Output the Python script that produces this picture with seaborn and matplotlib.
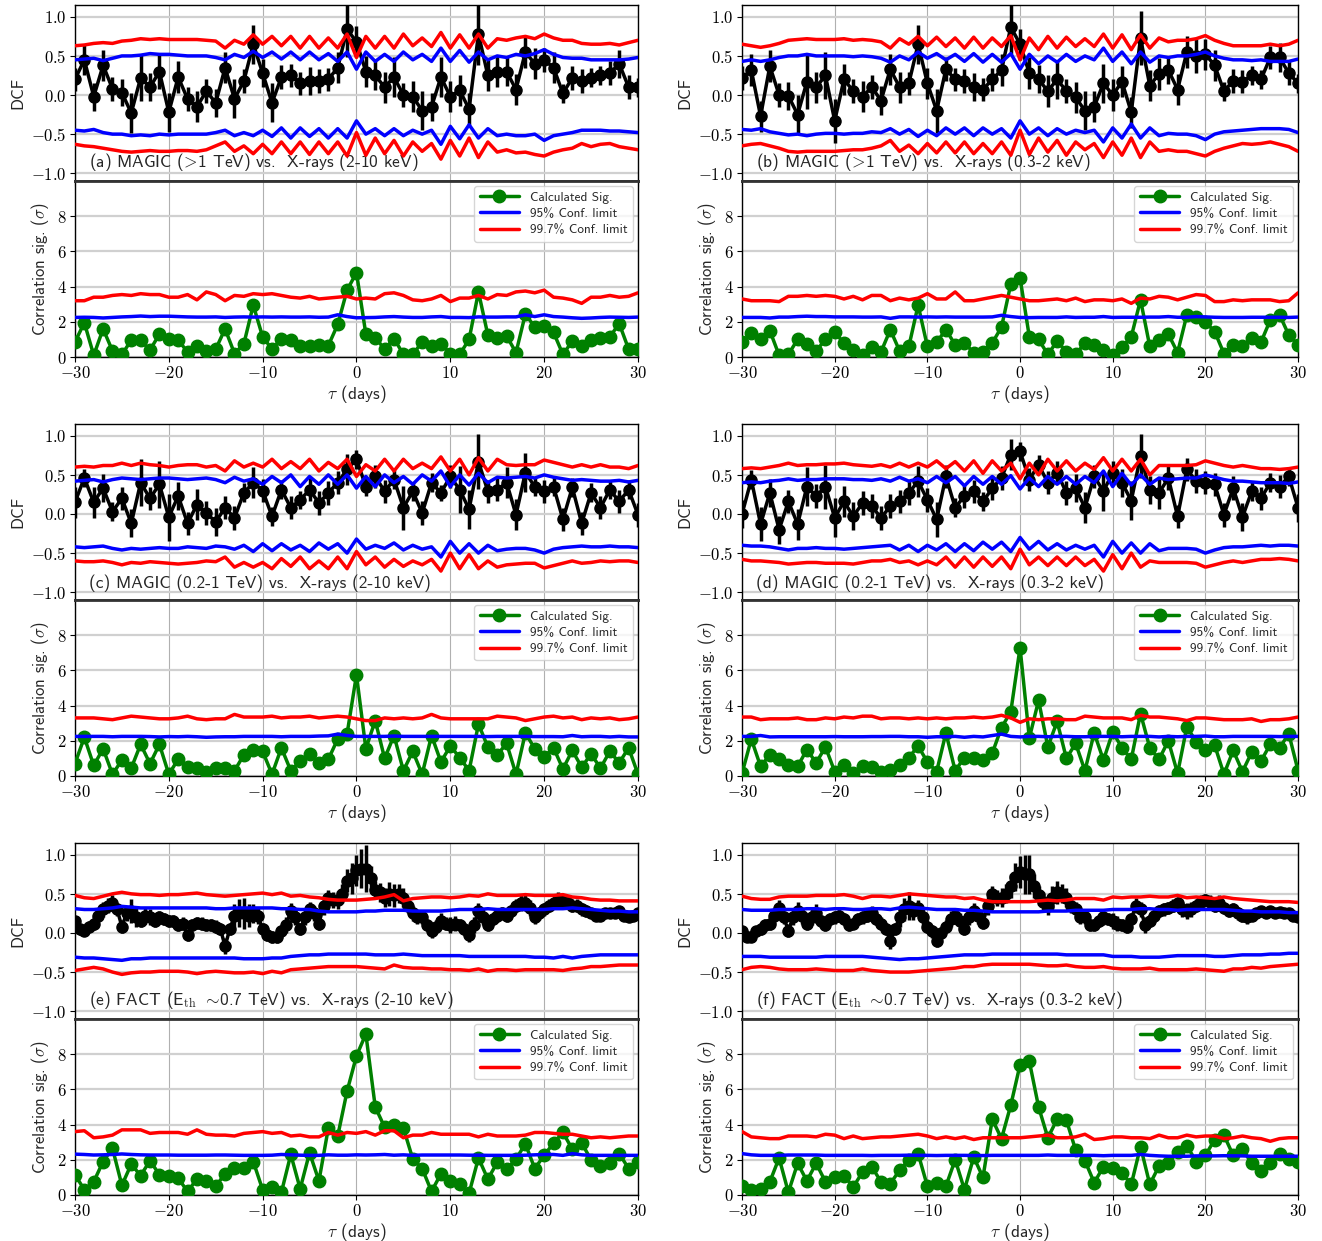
import numpy as np
import matplotlib
matplotlib.use("Agg")
import matplotlib.pyplot as plt
import seaborn as sns

# lag grids (days)
lags = np.arange(-30, 31)              # 1-day bins
lags_fine = np.arange(-30, 30.5, 0.5)  # FACT DCF uses 0.5-day bins

# ---------------- (a) MAGIC >1 TeV vs X-rays 2-10 keV ----------------
dcf_a = [0.2, 0.45, -0.02, 0.38, 0.08, 0.03, -0.23, 0.22, 0.1, 0.3,
         -0.22, 0.23, -0.05, -0.15, 0.05, -0.1, 0.35, -0.05, 0.18, 0.65,
         0.28, -0.1, 0.23, 0.25, 0.15, 0.18, 0.18, 0.2, 0.35, 0.84,
         0.68, 0.3, 0.25, 0.1, 0.23, 0.0, -0.02, -0.2, -0.15, 0.23,
         -0.02, 0.06, -0.18, 0.78, 0.25, 0.3, 0.3, 0.07, 0.55, 0.4,
         0.45, 0.35, 0.02, 0.22, 0.18, 0.22, 0.25, 0.28, 0.4, 0.1,
         0.1]
err_a = [0.15, 0.2, 0.18, 0.2, 0.15, 0.17, 0.25, 0.3, 0.18, 0.22,
         0.25, 0.2, 0.15, 0.2, 0.15, 0.18, 0.2, 0.25, 0.15, 0.25,
         0.18, 0.25, 0.15, 0.15, 0.15, 0.18, 0.15, 0.15, 0.2, 0.35,
         0.2, 0.2, 0.18, 0.2, 0.25, 0.15, 0.2, 0.25, 0.18, 0.25,
         0.2, 0.2, 0.2, 0.4, 0.2, 0.2, 0.18, 0.2, 0.2, 0.2,
         0.15, 0.2, 0.12, 0.15, 0.15, 0.12, 0.12, 0.15, 0.18, 0.15,
         0.12]
up997_a = [0.63, 0.64, 0.66, 0.67, 0.66, 0.69, 0.7, 0.72, 0.71, 0.72,
           0.71, 0.71, 0.71, 0.71, 0.7, 0.69, 0.6, 0.7, 0.65, 0.77,
           0.65, 0.75, 0.63, 0.75, 0.6, 0.75, 0.6, 0.73, 0.6, 0.78,
           0.48, 0.75, 0.6, 0.75, 0.6, 0.78, 0.63, 0.73, 0.62, 0.8,
           0.6, 0.77, 0.6, 0.78, 0.6, 0.72, 0.7, 0.73, 0.75, 0.72,
           0.78, 0.73, 0.7, 0.7, 0.66, 0.65, 0.65, 0.66, 0.64, 0.67,
           0.7]
up95_a = [0.45, 0.46, 0.47, 0.44, 0.47, 0.5, 0.5, 0.51, 0.53, 0.52,
          0.52, 0.51, 0.5, 0.5, 0.5, 0.48, 0.45, 0.52, 0.48, 0.56,
          0.48, 0.55, 0.46, 0.55, 0.45, 0.55, 0.45, 0.53, 0.43, 0.55,
          0.33, 0.55, 0.43, 0.52, 0.43, 0.55, 0.45, 0.52, 0.43, 0.6,
          0.43, 0.57, 0.42, 0.55, 0.45, 0.5, 0.48, 0.52, 0.5, 0.53,
          0.58, 0.52, 0.48, 0.47, 0.47, 0.45, 0.45, 0.45, 0.45, 0.46,
          0.48]
lo95_a = [-0.45, -0.46, -0.44, -0.48, -0.5, -0.5, -0.52, -0.51, -0.52, -0.5,
          -0.51, -0.5, -0.5, -0.5, -0.5, -0.48, -0.45, -0.52, -0.48, -0.52,
          -0.45, -0.53, -0.42, -0.55, -0.42, -0.53, -0.43, -0.55, -0.43, -0.55,
          -0.33, -0.5, -0.43, -0.52, -0.43, -0.52, -0.45, -0.5, -0.45, -0.63,
          -0.4, -0.56, -0.38, -0.55, -0.43, -0.52, -0.5, -0.52, -0.52, -0.5,
          -0.58, -0.52, -0.5, -0.48, -0.45, -0.45, -0.45, -0.46, -0.46, -0.47,
          -0.48]
lo997_a = [-0.63, -0.65, -0.66, -0.68, -0.7, -0.72, -0.73, -0.72, -0.71, -0.72,
           -0.72, -0.71, -0.71, -0.72, -0.7, -0.65, -0.6, -0.72, -0.65, -0.75,
           -0.63, -0.75, -0.6, -0.75, -0.6, -0.76, -0.6, -0.75, -0.6, -0.78,
           -0.48, -0.77, -0.55, -0.75, -0.58, -0.78, -0.6, -0.72, -0.62, -0.82,
           -0.58, -0.78, -0.55, -0.8, -0.6, -0.73, -0.7, -0.74, -0.73, -0.76,
           -0.78, -0.73, -0.7, -0.68, -0.62, -0.66, -0.63, -0.62, -0.66, -0.68,
           -0.7]
sig_a = [0.85, 1.95, 0.1, 1.6, 0.35, 0.15, 0.95, 0.95, 0.4, 1.3,
         1.0, 0.95, 0.3, 0.6, 0.35, 0.45, 1.6, 0.2, 0.75, 2.95,
         1.15, 0.45, 1.05, 0.95, 0.65, 0.65, 0.7, 0.65, 1.85, 3.8,
         4.8, 1.3, 1.1, 0.45, 1.05, 0.15, 0.15, 0.85, 0.6, 0.75,
         0.2, 0.15, 1.0, 3.7, 1.25, 1.1, 1.2, 0.25, 2.45, 1.7,
         1.75, 1.4, 0.15, 0.9, 0.65, 0.95, 1.1, 1.15, 1.9, 0.45,
         0.45]
sig95_a = [2.25, 2.26, 2.25, 2.22, 2.25, 2.28, 2.3, 2.33, 2.3, 2.32,
           2.32, 2.3, 2.28, 2.27, 2.27, 2.28, 2.25, 2.27, 2.28, 2.27,
           2.28, 2.27, 2.28, 2.27, 2.27, 2.28, 2.26, 2.27, 2.4, 2.3,
           2.23, 2.24, 2.25, 2.28, 2.3, 2.27, 2.25, 2.25, 2.28, 2.3,
           2.25, 2.25, 2.24, 2.28, 2.27, 2.27, 2.28, 2.28, 2.4, 2.3,
           2.4, 2.3, 2.27, 2.23, 2.2, 2.22, 2.25, 2.27, 2.26, 2.25,
           2.27]
sig997_a = [3.2, 3.2, 3.4, 3.4, 3.5, 3.55, 3.5, 3.6, 3.55, 3.55,
            3.4, 3.4, 3.55, 3.25, 3.7, 3.55, 3.2, 3.5, 3.45, 3.6,
            3.55, 3.6, 3.5, 3.4, 3.35, 3.45, 3.3, 3.35, 3.4, 3.45,
            3.3, 3.35, 3.3, 3.6, 3.65, 3.5, 3.25, 3.2, 3.3, 3.5,
            3.15, 3.35, 3.35, 3.5, 3.3, 3.55, 3.5, 3.7, 3.75, 3.65,
            3.8, 3.4, 3.35, 3.25, 3.05, 3.4, 3.4, 3.5, 3.4, 3.45,
            3.65]

# ---------------- (b) MAGIC >1 TeV vs X-rays 0.3-2 keV ----------------
dcf_b = [0.22, 0.32, -0.27, 0.37, 0.0, -0.01, -0.25, 0.17, 0.1, 0.25,
         -0.33, 0.2, 0.05, -0.02, 0.1, -0.07, 0.33, 0.1, 0.15, 0.65,
         0.15, -0.2, 0.33, 0.2, 0.18, 0.1, 0.07, 0.2, 0.32, 0.87,
         0.65, 0.28, 0.2, 0.05, 0.2, 0.05, -0.03, -0.2, -0.15, 0.15,
         0.0, 0.17, -0.22, 0.73, 0.12, 0.27, 0.32, 0.07, 0.55, 0.5,
         0.52, 0.38, 0.05, 0.18, 0.17, 0.25, 0.2, 0.48, 0.48, 0.28,
         0.15]
err_b = [0.15, 0.2, 0.2, 0.2, 0.15, 0.18, 0.25, 0.35, 0.2, 0.3,
         0.28, 0.2, 0.15, 0.2, 0.15, 0.18, 0.2, 0.2, 0.15, 0.25,
         0.2, 0.28, 0.15, 0.15, 0.15, 0.18, 0.15, 0.15, 0.2, 0.35,
         0.2, 0.2, 0.18, 0.2, 0.25, 0.15, 0.2, 0.25, 0.2, 0.25,
         0.2, 0.2, 0.2, 0.35, 0.2, 0.2, 0.18, 0.2, 0.2, 0.22,
         0.2, 0.2, 0.12, 0.15, 0.15, 0.12, 0.12, 0.15, 0.18, 0.15,
         0.12]
up997_b = [0.65, 0.63, 0.61, 0.63, 0.66, 0.7, 0.71, 0.72, 0.71, 0.71,
           0.71, 0.72, 0.7, 0.71, 0.7, 0.68, 0.6, 0.72, 0.65, 0.75,
           0.63, 0.74, 0.62, 0.73, 0.6, 0.74, 0.6, 0.73, 0.62, 0.76,
           0.45, 0.73, 0.58, 0.75, 0.6, 0.74, 0.62, 0.72, 0.62, 0.78,
           0.6, 0.77, 0.58, 0.77, 0.6, 0.73, 0.68, 0.7, 0.7, 0.72,
           0.76, 0.7, 0.66, 0.63, 0.63, 0.63, 0.63, 0.65, 0.63, 0.65,
           0.7]
up95_b = [0.43, 0.45, 0.43, 0.45, 0.48, 0.5, 0.5, 0.52, 0.5, 0.5,
          0.5, 0.5, 0.49, 0.5, 0.49, 0.47, 0.42, 0.5, 0.45, 0.55,
          0.47, 0.53, 0.45, 0.52, 0.43, 0.53, 0.42, 0.52, 0.42, 0.53,
          0.33, 0.52, 0.4, 0.5, 0.42, 0.52, 0.43, 0.5, 0.45, 0.6,
          0.43, 0.55, 0.4, 0.55, 0.42, 0.5, 0.48, 0.5, 0.5, 0.52,
          0.55, 0.5, 0.47, 0.45, 0.45, 0.44, 0.45, 0.43, 0.43, 0.43,
          0.46]
lo95_b = [-0.44, -0.45, -0.43, -0.47, -0.49, -0.51, -0.5, -0.52, -0.5, -0.49,
          -0.49, -0.5, -0.49, -0.49, -0.47, -0.48, -0.43, -0.5, -0.44, -0.53,
          -0.45, -0.52, -0.42, -0.5, -0.42, -0.52, -0.42, -0.5, -0.43, -0.55,
          -0.33, -0.5, -0.42, -0.52, -0.43, -0.5, -0.45, -0.48, -0.45, -0.6,
          -0.42, -0.55, -0.37, -0.55, -0.42, -0.52, -0.49, -0.5, -0.5, -0.52,
          -0.57, -0.5, -0.47, -0.46, -0.45, -0.44, -0.43, -0.43, -0.43, -0.44,
          -0.48]
lo997_b = [-0.65, -0.63, -0.62, -0.65, -0.68, -0.72, -0.73, -0.72, -0.72, -0.72,
           -0.72, -0.71, -0.7, -0.7, -0.68, -0.65, -0.58, -0.72, -0.64, -0.75,
           -0.62, -0.74, -0.6, -0.74, -0.6, -0.75, -0.62, -0.75, -0.6, -0.77,
           -0.45, -0.76, -0.55, -0.73, -0.58, -0.77, -0.6, -0.7, -0.62, -0.8,
           -0.6, -0.77, -0.55, -0.8, -0.6, -0.72, -0.7, -0.72, -0.72, -0.75,
           -0.78, -0.72, -0.68, -0.65, -0.62, -0.63, -0.62, -0.6, -0.63, -0.66,
           -0.72]
sig_b = [0.85, 1.35, 1.0, 1.5, 0.1, 0.15, 1.0, 0.75, 0.35, 1.0,
         1.4, 0.8, 0.4, 0.1, 0.55, 0.3, 1.55, 0.35, 0.6, 2.95,
         0.6, 0.85, 1.55, 0.7, 0.8, 0.25, 0.3, 0.8, 1.7, 4.15,
         4.5, 1.15, 1.0, 0.15, 0.9, 0.3, 0.15, 0.8, 0.7, 0.4,
         0.1, 0.55, 1.15, 3.25, 0.6, 0.95, 1.3, 0.25, 2.4, 2.3,
         2.0, 1.45, 0.2, 0.7, 0.6, 1.1, 0.85, 2.1, 2.4, 1.25,
         0.7]
sig95_b = [2.25, 2.25, 2.25, 2.22, 2.27, 2.27, 2.3, 2.32, 2.3, 2.3,
           2.28, 2.28, 2.28, 2.27, 2.27, 2.28, 2.2, 2.28, 2.28, 2.27,
           2.28, 2.27, 2.28, 2.27, 2.27, 2.27, 2.27, 2.28, 2.37, 2.3,
           2.25, 2.24, 2.25, 2.25, 2.25, 2.28, 2.25, 2.26, 2.26, 2.3,
           2.25, 2.26, 2.26, 2.26, 2.27, 2.27, 2.3, 2.26, 2.26, 2.3,
           2.28, 2.26, 2.25, 2.25, 2.25, 2.26, 2.26, 2.26, 2.26, 2.25,
           2.27]
sig997_b = [3.3, 3.2, 3.2, 3.2, 3.15, 3.45, 3.45, 3.5, 3.45, 3.5,
            3.45, 3.3, 3.45, 3.25, 3.5, 3.5, 3.2, 3.35, 3.25, 3.35,
            3.6, 3.3, 3.3, 3.7, 3.2, 3.2, 3.3, 3.4, 3.5, 3.4,
            3.3, 3.2, 3.2, 3.25, 3.3, 3.2, 3.35, 3.15, 3.25, 3.25,
            3.2, 3.3, 3.05, 3.35, 3.3, 3.45, 3.4, 3.25, 3.4, 3.55,
            3.5, 3.15, 3.15, 3.25, 3.2, 3.25, 3.25, 3.25, 3.15, 3.2,
            3.65]

# ---------------- (c) MAGIC 0.2-1 TeV vs X-rays 2-10 keV ----------------
dcf_c = [0.15, 0.46, 0.15, 0.33, 0.03, 0.2, -0.12, 0.4, 0.2, 0.38,
         -0.04, 0.23, -0.12, 0.12, 0.01, -0.1, 0.08, -0.05, 0.27, 0.4,
         0.3, -0.03, 0.31, 0.08, 0.18, 0.31, 0.14, 0.27, 0.4, 0.57,
         0.7, 0.35, 0.48, 0.29, 0.44, 0.08, 0.29, 0.01, 0.4, 0.27,
         0.48, 0.31, 0.06, 0.67, 0.29, 0.31, 0.4, -0.01, 0.53, 0.35,
         0.29, 0.35, -0.07, 0.34, -0.12, 0.27, 0.08, 0.31, 0.16, 0.31,
         -0.01]
err_c = [0.2, 0.12, 0.2, 0.18, 0.12, 0.15, 0.18, 0.3, 0.15, 0.3,
         0.3, 0.18, 0.15, 0.2, 0.15, 0.18, 0.15, 0.15, 0.12, 0.2,
         0.15, 0.12, 0.12, 0.15, 0.12, 0.15, 0.15, 0.15, 0.15, 0.2,
         0.12, 0.12, 0.15, 0.15, 0.12, 0.28, 0.12, 0.15, 0.12, 0.1,
         0.15, 0.3, 0.25, 0.35, 0.15, 0.15, 0.2, 0.2, 0.25, 0.12,
         0.15, 0.12, 0.15, 0.12, 0.15, 0.12, 0.15, 0.12, 0.15, 0.12,
         0.15]
up997_c = [0.6, 0.61, 0.6, 0.62, 0.62, 0.65, 0.62, 0.65, 0.63, 0.62,
           0.6, 0.62, 0.63, 0.63, 0.6, 0.62, 0.55, 0.68, 0.6, 0.65,
           0.6, 0.7, 0.58, 0.67, 0.58, 0.7, 0.55, 0.66, 0.58, 0.7,
           0.48, 0.63, 0.55, 0.7, 0.55, 0.7, 0.58, 0.65, 0.58, 0.73,
           0.55, 0.7, 0.5, 0.72, 0.55, 0.7, 0.63, 0.62, 0.63, 0.63,
           0.69, 0.66, 0.63, 0.6, 0.63, 0.6, 0.63, 0.6, 0.6, 0.58,
           0.62]
up95_c = [0.42, 0.43, 0.44, 0.41, 0.44, 0.46, 0.45, 0.44, 0.45, 0.46,
          0.46, 0.45, 0.44, 0.45, 0.46, 0.44, 0.4, 0.47, 0.42, 0.45,
          0.38, 0.48, 0.4, 0.5, 0.35, 0.48, 0.38, 0.5, 0.38, 0.5,
          0.33, 0.48, 0.35, 0.5, 0.4, 0.48, 0.38, 0.5, 0.42, 0.55,
          0.35, 0.5, 0.37, 0.52, 0.4, 0.47, 0.46, 0.47, 0.48, 0.46,
          0.5, 0.47, 0.45, 0.43, 0.44, 0.43, 0.42, 0.42, 0.43, 0.41,
          0.43]
lo95_c = [-0.42, -0.43, -0.42, -0.41, -0.44, -0.46, -0.44, -0.45, -0.44, -0.43,
          -0.44, -0.44, -0.42, -0.43, -0.44, -0.41, -0.42, -0.45, -0.4, -0.48,
          -0.38, -0.47, -0.38, -0.46, -0.4, -0.48, -0.37, -0.45, -0.38, -0.5,
          -0.32, -0.45, -0.4, -0.44, -0.37, -0.46, -0.4, -0.45, -0.42, -0.55,
          -0.35, -0.5, -0.38, -0.5, -0.4, -0.47, -0.45, -0.44, -0.44, -0.46,
          -0.5, -0.45, -0.43, -0.42, -0.41, -0.42, -0.42, -0.41, -0.42, -0.42,
          -0.43]
lo997_c = [-0.6, -0.61, -0.61, -0.6, -0.62, -0.65, -0.62, -0.63, -0.61, -0.62,
           -0.63, -0.64, -0.63, -0.62, -0.6, -0.61, -0.55, -0.68, -0.62, -0.68,
           -0.62, -0.7, -0.57, -0.67, -0.55, -0.7, -0.6, -0.7, -0.55, -0.7,
           -0.48, -0.65, -0.55, -0.68, -0.58, -0.67, -0.6, -0.65, -0.58, -0.73,
           -0.5, -0.7, -0.52, -0.7, -0.6, -0.68, -0.65, -0.64, -0.63, -0.63,
           -0.69, -0.66, -0.63, -0.6, -0.63, -0.62, -0.6, -0.61, -0.6, -0.6,
           -0.62]
sig_c = [0.7, 2.2, 0.6, 1.55, 0.1, 0.9, 0.45, 1.8, 0.7, 1.8,
         0.1, 0.95, 0.5, 0.45, 0.2, 0.45, 0.45, 0.3, 1.2, 1.5,
         1.4, 0.1, 1.6, 0.3, 0.85, 1.25, 0.75, 0.95, 2.1, 2.4,
         5.75, 1.55, 3.15, 1.0, 2.3, 0.3, 1.4, 0.1, 2.3, 0.8,
         1.7, 1.05, 0.3, 2.95, 1.65, 1.2, 1.85, 0.1, 2.45, 1.55,
         1.1, 1.6, 0.4, 1.45, 0.5, 1.25, 0.45, 1.4, 0.75, 1.6,
         0.1]
sig95_c = [2.25, 2.25, 2.25, 2.25, 2.23, 2.25, 2.25, 2.25, 2.24, 2.22,
           2.24, 2.23, 2.25, 2.23, 2.2, 2.22, 2.23, 2.23, 2.25, 2.25,
           2.25, 2.25, 2.23, 2.25, 2.25, 2.25, 2.27, 2.28, 2.38, 2.3,
           2.25, 2.25, 2.25, 2.25, 2.27, 2.25, 2.25, 2.25, 2.25, 2.25,
           2.25, 2.25, 2.25, 2.25, 2.24, 2.25, 2.25, 2.25, 2.25, 2.24,
           2.24, 2.24, 2.23, 2.3, 2.23, 2.25, 2.25, 2.22, 2.25, 2.22,
           2.22]
sig997_c = [3.3, 3.3, 3.3, 3.25, 3.2, 3.3, 3.4, 3.35, 3.3, 3.25,
            3.25, 3.3, 3.4, 3.25, 3.2, 3.25, 3.25, 3.5, 3.35, 3.35,
            3.35, 3.4, 3.3, 3.35, 3.35, 3.4, 3.3, 3.35, 3.4, 3.35,
            3.25, 3.15, 3.15, 3.3, 3.25, 3.3, 3.25, 3.3, 3.5, 3.3,
            3.25, 3.25, 3.25, 3.25, 3.25, 3.4, 3.35, 3.3, 3.15, 3.25,
            3.35, 3.4, 3.3, 3.35, 3.2, 3.3, 3.25, 3.3, 3.2, 3.25,
            3.35]

# ---------------- (d) MAGIC 0.2-1 TeV vs X-rays 0.3-2 keV ----------------
dcf_d = [0.0, 0.44, -0.13, 0.27, -0.2, 0.16, -0.13, 0.35, 0.23, 0.35,
         -0.05, 0.16, -0.03, 0.14, 0.1, -0.05, 0.1, 0.16, 0.27, 0.42,
         0.18, -0.07, 0.48, 0.08, 0.23, 0.29, 0.16, 0.33, 0.46, 0.76,
         0.8, 0.44, 0.63, 0.4, 0.53, 0.27, 0.33, 0.08, 0.48, 0.29,
         0.53, 0.4, 0.17, 0.74, 0.31, 0.27, 0.46, -0.03, 0.57, 0.42,
         0.4, 0.38, -0.01, 0.33, -0.04, 0.29, 0.2, 0.4, 0.35, 0.48,
         0.08]
err_d = [0.18, 0.12, 0.22, 0.18, 0.18, 0.15, 0.2, 0.25, 0.15, 0.28,
         0.25, 0.2, 0.18, 0.15, 0.15, 0.15, 0.15, 0.15, 0.15, 0.2,
         0.15, 0.22, 0.15, 0.12, 0.15, 0.15, 0.12, 0.15, 0.15, 0.2,
         0.12, 0.15, 0.12, 0.15, 0.15, 0.15, 0.18, 0.2, 0.15, 0.25,
         0.15, 0.18, 0.25, 0.28, 0.18, 0.2, 0.15, 0.15, 0.15, 0.15,
         0.15, 0.15, 0.15, 0.15, 0.18, 0.12, 0.15, 0.12, 0.15, 0.12,
         0.18]
up997_d = [0.58, 0.59, 0.58, 0.6, 0.62, 0.65, 0.62, 0.63, 0.63, 0.64,
           0.64, 0.65, 0.63, 0.62, 0.61, 0.63, 0.6, 0.65, 0.6, 0.65,
           0.6, 0.68, 0.58, 0.67, 0.55, 0.68, 0.52, 0.68, 0.55, 0.65,
           0.45, 0.65, 0.5, 0.7, 0.55, 0.68, 0.55, 0.65, 0.57, 0.72,
           0.55, 0.7, 0.55, 0.7, 0.5, 0.62, 0.62, 0.62, 0.62, 0.63,
           0.68, 0.65, 0.62, 0.6, 0.62, 0.6, 0.58, 0.58, 0.57, 0.58,
           0.6]
up95_d = [0.4, 0.41, 0.4, 0.42, 0.43, 0.45, 0.43, 0.44, 0.44, 0.45,
          0.45, 0.45, 0.44, 0.44, 0.43, 0.45, 0.42, 0.47, 0.42, 0.45,
          0.4, 0.48, 0.4, 0.48, 0.36, 0.48, 0.38, 0.48, 0.38, 0.49,
          0.32, 0.46, 0.35, 0.48, 0.38, 0.48, 0.38, 0.48, 0.4, 0.55,
          0.35, 0.52, 0.37, 0.5, 0.38, 0.46, 0.44, 0.45, 0.46, 0.46,
          0.5, 0.47, 0.44, 0.42, 0.42, 0.41, 0.4, 0.4, 0.4, 0.39,
          0.41]
lo95_d = [-0.4, -0.41, -0.41, -0.42, -0.44, -0.46, -0.44, -0.44, -0.43, -0.44,
          -0.44, -0.45, -0.44, -0.43, -0.42, -0.41, -0.4, -0.46, -0.4, -0.48,
          -0.4, -0.46, -0.38, -0.48, -0.38, -0.47, -0.36, -0.45, -0.36, -0.48,
          -0.3, -0.45, -0.35, -0.46, -0.38, -0.46, -0.4, -0.45, -0.4, -0.55,
          -0.35, -0.5, -0.37, -0.5, -0.38, -0.47, -0.44, -0.44, -0.44, -0.45,
          -0.5, -0.46, -0.43, -0.42, -0.42, -0.41, -0.4, -0.41, -0.4, -0.4,
          -0.41]
lo997_d = [-0.58, -0.6, -0.6, -0.61, -0.62, -0.64, -0.63, -0.62, -0.62, -0.63,
           -0.63, -0.63, -0.64, -0.62, -0.6, -0.6, -0.58, -0.62, -0.6, -0.65,
           -0.6, -0.65, -0.55, -0.68, -0.55, -0.68, -0.55, -0.67, -0.55, -0.7,
           -0.45, -0.65, -0.55, -0.66, -0.55, -0.66, -0.55, -0.66, -0.58, -0.73,
           -0.52, -0.7, -0.5, -0.68, -0.6, -0.62, -0.62, -0.62, -0.62, -0.63,
           -0.68, -0.65, -0.62, -0.6, -0.62, -0.6, -0.58, -0.58, -0.57, -0.58,
           -0.6]
sig_d = [0.15, 2.1, 0.55, 1.2, 0.95, 0.65, 0.55, 1.5, 0.75, 1.65,
         0.25, 0.6, 0.15, 0.55, 0.5, 0.2, 0.35, 0.65, 1.05, 1.7,
         0.8, 0.25, 2.45, 0.3, 1.05, 1.05, 0.9, 1.3, 2.75, 3.65,
         7.3, 2.15, 4.3, 1.65, 3.1, 1.0, 1.85, 0.3, 2.45, 0.9,
         2.5, 1.6, 0.95, 3.55, 1.6, 0.95, 2.0, 0.15, 2.8, 1.95,
         1.5, 1.75, 0.1, 1.45, 0.25, 1.35, 0.85, 1.8, 1.6, 2.4,
         0.3]
sig95_d = [2.25, 2.25, 2.3, 2.22, 2.23, 2.23, 2.23, 2.23, 2.23, 2.23,
           2.24, 2.23, 2.23, 2.23, 2.24, 2.24, 2.25, 2.25, 2.23, 2.23,
           2.2, 2.23, 2.23, 2.25, 2.2, 2.25, 2.22, 2.3, 2.38, 2.25,
           2.22, 2.25, 2.25, 2.23, 2.25, 2.25, 2.23, 2.23, 2.25, 2.25,
           2.25, 2.23, 2.25, 2.25, 2.25, 2.22, 2.25, 2.23, 2.25, 2.25,
           2.27, 2.23, 2.23, 2.25, 2.25, 2.25, 2.25, 2.25, 2.24, 2.25,
           2.25]
sig997_d = [3.35, 3.35, 3.2, 3.25, 3.25, 3.25, 3.3, 3.2, 3.2, 3.3,
            3.25, 3.35, 3.3, 3.4, 3.4, 3.25, 3.3, 3.3, 3.25, 3.3,
            3.25, 3.3, 3.25, 3.3, 3.3, 3.35, 3.3, 3.35, 3.45, 3.3,
            3.05, 3.25, 3.2, 3.25, 3.25, 3.2, 3.2, 3.4, 3.35, 3.3,
            3.3, 3.3, 3.2, 3.45, 3.35, 3.35, 3.3, 3.25, 3.15, 3.3,
            3.3, 3.25, 3.2, 3.2, 3.2, 3.25, 3.1, 3.2, 3.2, 3.25,
            3.35]

# ---------------- (e) FACT vs X-rays 2-10 keV (DCF in 0.5-day bins) ----------------
dcf_e = [0.15, 0.05, 0.03, 0.08, 0.12, 0.22, 0.3, 0.35, 0.38, 0.3,
         0.08, 0.25, 0.28, 0.2, 0.15, 0.22, 0.2, 0.15, 0.2, 0.18,
         0.15, 0.15, 0.1, 0.12, -0.03, 0.1, 0.13, 0.12, 0.1, 0.1,
         0.08, 0.05, -0.17, 0.05, 0.22, 0.25, 0.25, 0.22, 0.25, 0.22,
         0.05, -0.02, -0.05, -0.05, 0.02, 0.1, 0.28, 0.2, 0.05, 0.2,
         0.3, 0.25, 0.12, 0.35, 0.45, 0.42, 0.42, 0.5, 0.67, 0.7,
         0.8, 0.82, 0.82, 0.7, 0.55, 0.52, 0.45, 0.5, 0.48, 0.5,
         0.45, 0.35, 0.25, 0.2, 0.2, 0.1, 0.02, 0.08, 0.15, 0.12,
         0.1, 0.12, 0.1, 0.05, -0.03, 0.1, 0.28, 0.2, 0.1, 0.18,
         0.22, 0.25, 0.22, 0.28, 0.35, 0.38, 0.38, 0.32, 0.2, 0.25,
         0.3, 0.35, 0.38, 0.42, 0.4, 0.38, 0.35, 0.35, 0.3, 0.28,
         0.25, 0.22, 0.22, 0.25, 0.25, 0.25, 0.28, 0.22, 0.2, 0.22,
         0.25]
err_e = [0.07, 0.07, 0.07, 0.07, 0.08, 0.08, 0.1, 0.1, 0.1, 0.08,
         0.08, 0.1, 0.15, 0.12, 0.08, 0.1, 0.1, 0.08, 0.08, 0.08,
         0.08, 0.08, 0.08, 0.08, 0.07, 0.08, 0.08, 0.08, 0.08, 0.08,
         0.08, 0.08, 0.1, 0.08, 0.15, 0.18, 0.2, 0.15, 0.12, 0.1,
         0.08, 0.08, 0.08, 0.08, 0.08, 0.1, 0.1, 0.1, 0.08, 0.1,
         0.1, 0.1, 0.08, 0.12, 0.1, 0.1, 0.12, 0.12, 0.15, 0.2,
         0.2, 0.25, 0.3, 0.15, 0.12, 0.12, 0.12, 0.15, 0.15, 0.12,
         0.12, 0.1, 0.1, 0.08, 0.08, 0.08, 0.08, 0.08, 0.1, 0.08,
         0.1, 0.1, 0.08, 0.08, 0.08, 0.1, 0.1, 0.1, 0.08, 0.08,
         0.08, 0.08, 0.08, 0.08, 0.08, 0.1, 0.1, 0.1, 0.08, 0.08,
         0.08, 0.08, 0.08, 0.1, 0.08, 0.08, 0.08, 0.08, 0.08, 0.08,
         0.06, 0.06, 0.06, 0.06, 0.06, 0.06, 0.06, 0.06, 0.06, 0.06,
         0.06]
up997_e = [0.48, 0.45, 0.44, 0.47, 0.5, 0.52, 0.5, 0.49, 0.49, 0.48,
           0.49, 0.49, 0.5, 0.51, 0.49, 0.48, 0.47, 0.48, 0.49, 0.5,
           0.51, 0.49, 0.51, 0.47, 0.48, 0.46, 0.45, 0.43, 0.42, 0.42,
           0.42, 0.43, 0.44, 0.46, 0.49, 0.41, 0.44, 0.45, 0.46, 0.46,
           0.45, 0.46, 0.48, 0.47, 0.5, 0.48, 0.48, 0.48, 0.49, 0.48,
           0.48, 0.48, 0.49, 0.46, 0.45, 0.43, 0.42, 0.42, 0.41, 0.41,
           0.41]
up95_e = [0.31, 0.3, 0.3, 0.31, 0.32, 0.34, 0.33, 0.32, 0.32, 0.32,
          0.32, 0.32, 0.32, 0.32, 0.32, 0.31, 0.31, 0.32, 0.32, 0.32,
          0.32, 0.32, 0.31, 0.31, 0.3, 0.3, 0.28, 0.27, 0.27, 0.27,
          0.27, 0.28, 0.28, 0.29, 0.29, 0.29, 0.28, 0.28, 0.28, 0.28,
          0.29, 0.3, 0.3, 0.3, 0.31, 0.3, 0.3, 0.3, 0.3, 0.3,
          0.3, 0.31, 0.31, 0.32, 0.31, 0.3, 0.29, 0.28, 0.28, 0.27,
          0.27]
lo95_e = [-0.31, -0.32, -0.32, -0.33, -0.34, -0.35, -0.33, -0.33, -0.32, -0.32,
          -0.32, -0.32, -0.32, -0.32, -0.32, -0.32, -0.32, -0.32, -0.33, -0.33,
          -0.33, -0.32, -0.32, -0.3, -0.29, -0.28, -0.28, -0.27, -0.27, -0.27,
          -0.27, -0.27, -0.28, -0.28, -0.28, -0.27, -0.28, -0.29, -0.29, -0.29,
          -0.29, -0.29, -0.3, -0.3, -0.3, -0.3, -0.3, -0.3, -0.3, -0.31,
          -0.31, -0.32, -0.3, -0.32, -0.3, -0.29, -0.28, -0.28, -0.28, -0.28,
          -0.28]
lo997_e = [-0.48, -0.46, -0.44, -0.46, -0.5, -0.53, -0.51, -0.5, -0.5, -0.49,
           -0.49, -0.49, -0.5, -0.52, -0.5, -0.49, -0.5, -0.51, -0.51, -0.5,
           -0.52, -0.49, -0.51, -0.47, -0.46, -0.45, -0.44, -0.43, -0.43, -0.43,
           -0.43, -0.44, -0.45, -0.46, -0.41, -0.44, -0.45, -0.45, -0.46, -0.46,
           -0.47, -0.47, -0.48, -0.46, -0.49, -0.47, -0.47, -0.48, -0.47, -0.47,
           -0.47, -0.47, -0.48, -0.46, -0.45, -0.43, -0.43, -0.42, -0.41, -0.41,
           -0.41]
sig_e = [1.15, 0.3, 0.75, 1.9, 2.65, 0.55, 1.75, 1.1, 1.95, 1.15,
         1.1, 0.95, 0.2, 0.9, 0.8, 0.5, 1.2, 1.55, 1.55, 1.9,
         0.3, 0.45, 0.15, 2.3, 0.35, 2.4, 0.8, 3.8, 3.35, 5.9,
         7.9, 9.15, 5.0, 3.85, 4.0, 3.8, 2.05, 1.5, 0.2, 1.2,
         0.8, 0.65, 0.1, 2.1, 0.9, 1.85, 1.45, 2.05, 2.9, 1.5,
         2.25, 2.95, 3.55, 2.6, 2.95, 2.0, 1.65, 1.8, 2.35, 1.5,
         1.9]
sig95_e = [2.32, 2.3, 2.27, 2.28, 2.3, 2.33, 2.3, 2.28, 2.27, 2.27,
           2.27, 2.26, 2.26, 2.26, 2.26, 2.27, 2.27, 2.26, 2.25, 2.25,
           2.25, 2.26, 2.3, 2.28, 2.26, 2.25, 2.25, 2.28, 2.26, 2.26,
           2.28, 2.27, 2.28, 2.3, 2.26, 2.28, 2.25, 2.27, 2.27, 2.27,
           2.27, 2.27, 2.26, 2.26, 2.25, 2.25, 2.25, 2.25, 2.26, 2.28,
           2.3, 2.3, 2.25, 2.35, 2.28, 2.25, 2.25, 2.25, 2.25, 2.25,
           2.25]
sig997_e = [3.6, 3.65, 3.25, 3.3, 3.4, 3.7, 3.7, 3.7, 3.5, 3.55,
            3.55, 3.55, 3.45, 3.7, 3.45, 3.4, 3.4, 3.35, 3.5, 3.55,
            3.6, 3.5, 3.55, 3.35, 3.4, 3.3, 3.3, 3.55, 3.4, 3.55,
            3.5, 3.6, 3.4, 3.65, 3.65, 3.25, 3.4, 3.4, 3.55, 3.45,
            3.45, 3.45, 3.45, 3.3, 3.45, 3.35, 3.35, 3.35, 3.4, 3.55,
            3.55, 3.5, 3.45, 3.45, 3.35, 3.25, 3.3, 3.25, 3.3, 3.35,
            3.35]

# ---------------- (f) FACT vs X-rays 0.3-2 keV (DCF in 0.5-day bins) ----------------
dcf_f = [0.02, -0.05, -0.05, 0.02, 0.05, 0.1, 0.12, 0.22, 0.32, 0.2,
         0.03, 0.2, 0.28, 0.22, 0.12, 0.2, 0.25, 0.15, 0.1, 0.18,
         0.2, 0.22, 0.18, 0.1, 0.12, 0.18, 0.2, 0.22, 0.25, 0.18,
         0.12, 0.05, -0.1, 0.05, 0.2, 0.3, 0.35, 0.28, 0.32, 0.2,
         0.08, 0.02, -0.1, 0.0, 0.08, 0.18, 0.22, 0.15, 0.05, 0.2,
         0.28, 0.22, 0.13, 0.35, 0.5, 0.45, 0.45, 0.5, 0.6, 0.72,
         0.78, 0.75, 0.75, 0.6, 0.48, 0.4, 0.35, 0.45, 0.52, 0.5,
         0.45, 0.35, 0.3, 0.2, 0.2, 0.1, 0.1, 0.15, 0.2, 0.18,
         0.15, 0.12, 0.1, 0.08, 0.18, 0.35, 0.3, 0.1, 0.15, 0.22,
         0.28, 0.3, 0.32, 0.35, 0.38, 0.3, 0.28, 0.3, 0.35, 0.4,
         0.42, 0.4, 0.35, 0.38, 0.32, 0.28, 0.3, 0.25, 0.22, 0.2,
         0.22, 0.25, 0.28, 0.25, 0.28, 0.25, 0.27, 0.25, 0.25, 0.22,
         0.2]
err_f = [0.07, 0.07, 0.07, 0.07, 0.08, 0.08, 0.08, 0.1, 0.1, 0.08,
         0.08, 0.1, 0.12, 0.1, 0.08, 0.1, 0.12, 0.08, 0.08, 0.08,
         0.08, 0.08, 0.08, 0.08, 0.07, 0.08, 0.08, 0.08, 0.1, 0.08,
         0.08, 0.08, 0.1, 0.08, 0.12, 0.15, 0.18, 0.12, 0.1, 0.1,
         0.08, 0.08, 0.08, 0.08, 0.08, 0.1, 0.1, 0.1, 0.08, 0.1,
         0.1, 0.1, 0.08, 0.12, 0.1, 0.1, 0.12, 0.12, 0.15, 0.18,
         0.2, 0.25, 0.25, 0.15, 0.12, 0.12, 0.12, 0.15, 0.15, 0.12,
         0.12, 0.1, 0.1, 0.08, 0.08, 0.08, 0.08, 0.08, 0.1, 0.08,
         0.1, 0.1, 0.08, 0.08, 0.08, 0.1, 0.1, 0.1, 0.08, 0.08,
         0.08, 0.08, 0.08, 0.08, 0.08, 0.1, 0.1, 0.1, 0.08, 0.08,
         0.08, 0.08, 0.08, 0.1, 0.08, 0.08, 0.08, 0.08, 0.08, 0.08,
         0.06, 0.06, 0.06, 0.06, 0.06, 0.06, 0.06, 0.06, 0.06, 0.06,
         0.06]
up997_f = [0.47, 0.44, 0.43, 0.43, 0.46, 0.47, 0.47, 0.47, 0.48, 0.48,
           0.48, 0.49, 0.47, 0.44, 0.47, 0.47, 0.46, 0.48, 0.5, 0.49,
           0.48, 0.47, 0.46, 0.46, 0.44, 0.45, 0.42, 0.4, 0.4, 0.4,
           0.4, 0.4, 0.41, 0.42, 0.41, 0.42, 0.44, 0.44, 0.44, 0.42,
           0.46, 0.45, 0.46, 0.46, 0.47, 0.46, 0.46, 0.48, 0.45, 0.46,
           0.45, 0.44, 0.46, 0.44, 0.43, 0.42, 0.41, 0.4, 0.4, 0.4,
           0.39]
up95_f = [0.3, 0.29, 0.29, 0.29, 0.3, 0.3, 0.3, 0.31, 0.31, 0.3,
          0.31, 0.31, 0.3, 0.3, 0.31, 0.31, 0.3, 0.32, 0.33, 0.32,
          0.31, 0.3, 0.3, 0.3, 0.29, 0.29, 0.28, 0.27, 0.27, 0.27,
          0.27, 0.27, 0.27, 0.28, 0.28, 0.28, 0.29, 0.29, 0.29, 0.29,
          0.3, 0.3, 0.3, 0.31, 0.31, 0.3, 0.3, 0.29, 0.3, 0.3,
          0.3, 0.3, 0.3, 0.29, 0.28, 0.28, 0.27, 0.27, 0.27, 0.26,
          0.26]
lo95_f = [-0.3, -0.3, -0.3, -0.31, -0.31, -0.31, -0.31, -0.31, -0.31, -0.3,
          -0.3, -0.3, -0.3, -0.3, -0.31, -0.32, -0.33, -0.34, -0.33, -0.33,
          -0.32, -0.31, -0.3, -0.29, -0.28, -0.28, -0.28, -0.27, -0.27, -0.27,
          -0.27, -0.27, -0.27, -0.27, -0.27, -0.28, -0.28, -0.28, -0.28, -0.28,
          -0.3, -0.3, -0.3, -0.31, -0.31, -0.31, -0.3, -0.29, -0.29, -0.29,
          -0.29, -0.3, -0.3, -0.29, -0.28, -0.28, -0.28, -0.27, -0.27, -0.26,
          -0.26]
lo997_f = [-0.47, -0.44, -0.43, -0.44, -0.46, -0.47, -0.47, -0.47, -0.46, -0.47,
           -0.48, -0.48, -0.48, -0.46, -0.48, -0.49, -0.5, -0.5, -0.5, -0.49,
           -0.48, -0.47, -0.46, -0.45, -0.43, -0.43, -0.41, -0.4, -0.4, -0.4,
           -0.4, -0.4, -0.41, -0.42, -0.42, -0.41, -0.43, -0.44, -0.44, -0.43,
           -0.45, -0.46, -0.46, -0.46, -0.45, -0.47, -0.47, -0.47, -0.47, -0.46,
           -0.47, -0.48, -0.49, -0.46, -0.46, -0.44, -0.45, -0.43, -0.42, -0.41,
           -0.4]
sig_f = [0.5, 0.3, 0.35, 0.75, 2.1, 0.15, 1.8, 0.8, 1.8, 0.75,
         1.0, 1.1, 0.45, 1.3, 1.6, 0.75, 0.65, 1.4, 2.0, 2.35,
         0.5, 0.7, 0.5, 2.0, 0.3, 2.15, 1.0, 4.3, 3.2, 5.1,
         7.4, 7.6, 5.0, 3.25, 4.3, 4.25, 2.55, 1.95, 0.7, 1.6,
         1.55, 1.25, 0.6, 2.75, 0.6, 1.65, 1.8, 2.45, 2.8, 1.9,
         2.25, 3.15, 3.4, 2.25, 2.6, 1.8, 1.35, 1.8, 2.3, 2.05,
         1.9]
sig95_f = [2.35, 2.28, 2.25, 2.25, 2.25, 2.27, 2.27, 2.27, 2.27, 2.25,
           2.25, 2.25, 2.25, 2.25, 2.24, 2.25, 2.25, 2.25, 2.26, 2.25,
           2.25, 2.24, 2.25, 2.25, 2.25, 2.24, 2.24, 2.25, 2.25, 2.25,
           2.25, 2.25, 2.25, 2.27, 2.25, 2.25, 2.25, 2.25, 2.25, 2.23,
           2.25, 2.25, 2.25, 2.3, 2.25, 2.22, 2.2, 2.2, 2.2, 2.22,
           2.22, 2.22, 2.23, 2.22, 2.22, 2.2, 2.2, 2.2, 2.2, 2.2,
           2.2]
sig997_f = [3.6, 3.3, 3.25, 3.2, 3.2, 3.35, 3.35, 3.35, 3.3, 3.45,
            3.4, 3.2, 3.35, 3.2, 3.25, 3.3, 3.3, 3.35, 3.4, 3.45,
            3.35, 3.2, 3.3, 3.2, 3.3, 3.15, 3.25, 3.25, 3.25, 3.25,
            3.25, 3.3, 3.35, 3.4, 3.25, 3.25, 3.3, 3.45, 3.15, 3.2,
            3.3, 3.3, 3.25, 3.25, 3.2, 3.4, 3.25, 3.25, 3.4, 3.3,
            3.35, 3.35, 3.2, 3.25, 3.35, 3.25, 3.2, 3.05, 3.2, 3.25,
            3.25]

titles = [
    r"(a) MAGIC ($\!>\!$1 TeV) vs.  X-rays (2-10 keV)",
    r"(b) MAGIC ($\!>\!$1 TeV) vs.  X-rays (0.3-2 keV)",
    r"(c) MAGIC (0.2-1 TeV) vs.  X-rays (2-10 keV)",
    r"(d) MAGIC (0.2-1 TeV) vs.  X-rays (0.3-2 keV)",
    r"(e) FACT (E$_{\rm th}$ $\sim\!$0.7 TeV) vs.  X-rays (2-10 keV)",
    r"(f) FACT (E$_{\rm th}$ $\sim\!$0.7 TeV) vs.  X-rays (0.3-2 keV)",
]

panels = [
    (lags, dcf_a, err_a, up95_a, up997_a, lo95_a, lo997_a, sig_a, sig95_a, sig997_a),
    (lags, dcf_b, err_b, up95_b, up997_b, lo95_b, lo997_b, sig_b, sig95_b, sig997_b),
    (lags, dcf_c, err_c, up95_c, up997_c, lo95_c, lo997_c, sig_c, sig95_c, sig997_c),
    (lags, dcf_d, err_d, up95_d, up997_d, lo95_d, lo997_d, sig_d, sig95_d, sig997_d),
    (lags_fine, dcf_e, err_e, up95_e, up997_e, lo95_e, lo997_e, sig_e, sig95_e, sig997_e),
    (lags_fine, dcf_f, err_f, up95_f, up997_f, lo95_f, lo997_f, sig_f, sig95_f, sig997_f),
]

for p in panels:
    assert len(p[1]) == len(p[0]) and len(p[2]) == len(p[0]), len(p[1])
    for arr in p[3:]:
        assert len(arr) == 61, len(arr)

sns.set_style("ticks")
plt.rcParams.update({
    "font.family": "cmss10",
    "mathtext.fontset": "cm",
    "axes.formatter.use_mathtext": True,
    "axes.unicode_minus": True,
    "axes.edgecolor": "black",
    "axes.linewidth": 1.0,
    "xtick.color": "black",
    "ytick.color": "black",
})

fig = plt.figure(figsize=(13.22, 12.41), dpi=100)
col_x = [0.0567, 0.5613]
col_w = [0.4259, 0.4206]
dcf_bottom = [0.8541, 0.5165, 0.1789]
sig_bottom = [0.7123, 0.3747, 0.0371]
h = 0.1418


def style_axis(ax):
    ax.set_axisbelow(True)
    ax.grid(True, axis="x", color="#b0b0b0", lw=0.8)
    ax.grid(True, axis="y", color="#d0d0d0", lw=1.6)
    ax.tick_params(labelsize=12, labelfontfamily="cmr10", width=0.8,
                   length=3.5, pad=2.5)
    ax.set_xlim(-30, 30)
    ax.set_xticks([-30, -20, -10, 0, 10, 20, 30])


for i, (lag_d, dcf, err, up95, up997, lo95, lo997, sig, sig95, sig997) in enumerate(panels):
    r, c = divmod(i, 2)
    ax1 = fig.add_axes([col_x[c], dcf_bottom[r], col_w[c], h])
    ax2 = fig.add_axes([col_x[c], sig_bottom[r], col_w[c], h])

    # DCF with error bars, then the confidence limits on top
    ax1.errorbar(lag_d, dcf, yerr=err, fmt="none", ecolor="black",
                 elinewidth=2.5, capsize=0, zorder=2)
    sns.lineplot(x=lag_d, y=dcf, ax=ax1, color="black", lw=2.5, marker="o",
                 markersize=8, markeredgecolor="black", markeredgewidth=1, zorder=3)
    for arr, col in [(up95, "blue"), (lo95, "blue"), (up997, "red"), (lo997, "red")]:
        sns.lineplot(x=lags, y=arr, ax=ax1, color=col, lw=2.5, zorder=4)
    style_axis(ax1)
    ax1.set_ylim(-1.1, 1.15)
    ax1.set_yticks([-1.0, -0.5, 0.0, 0.5, 1.0])
    ax1.tick_params(labelbottom=False)
    ax1.spines["bottom"].set_color("#333333")
    ax1.spines["bottom"].set_linewidth(2.0)
    ax1.set_ylabel("DCF", fontsize=12)
    ax1.text(0.025, 0.045, titles[i], transform=ax1.transAxes, fontsize=12.5,
             ha="left", va="bottom")

    # correlation significance
    sns.lineplot(x=lags, y=sig, ax=ax2, color="green", lw=2.5, marker="o",
                 markersize=9, markeredgecolor="green", markeredgewidth=1,
                 label="Calculated Sig.", zorder=3)
    sns.lineplot(x=lags, y=sig95, ax=ax2, color="blue", lw=2.5,
                 label="95% Conf. limit", zorder=4)
    sns.lineplot(x=lags, y=sig997, ax=ax2, color="red", lw=2.5,
                 label="99.7% Conf. limit", zorder=4)
    style_axis(ax2)
    ax2.set_ylim(0, 10)
    ax2.set_yticks([0, 2, 4, 6, 8])
    ax2.spines["top"].set_color("#333333")
    ax2.spines["top"].set_linewidth(2.0)
    ax2.set_ylabel(r"Correlation sig. ($\sigma$)", fontsize=12)
    ax2.set_xlabel(r"$\tau$ (days)", fontsize=12.5, labelpad=1)
    ax2.legend(loc="upper right", fontsize=9.5, handlelength=3.0,
               borderaxespad=0.4, labelspacing=0.3)

fig.savefig("out.png", dpi=100)
